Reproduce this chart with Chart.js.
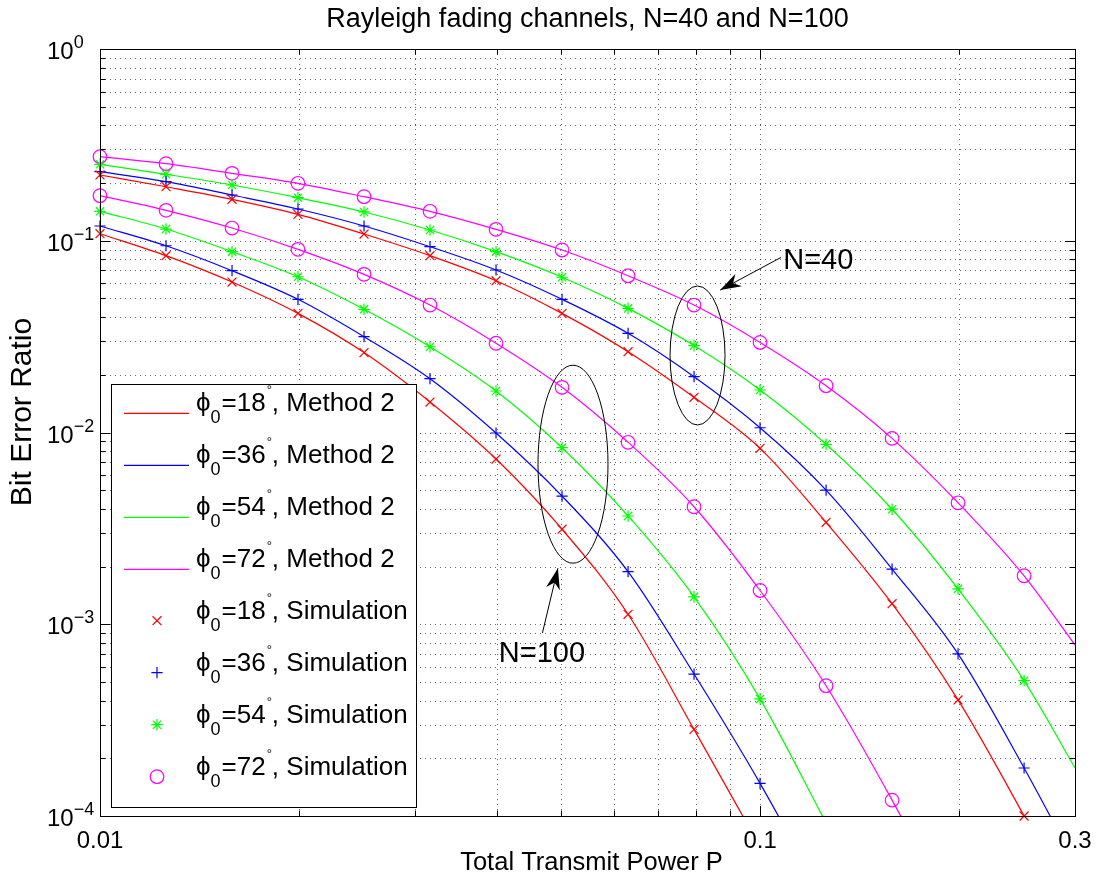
<!DOCTYPE html>
<html lang="en">
<head>
<meta charset="UTF-8">
<title>Rayleigh fading channels, N=40 and N=100</title>
<script src="https://cdn.jsdelivr.net/npm/chart.js@4.4.0/dist/chart.umd.min.js"></script>
<style>
  body { margin: 0; background: #fff; }
  #wrap { position: relative; width: 1098px; height: 880px; }
</style>
</head>
<body>
<div id="wrap"><canvas id="berChart"></canvas></div>
<script>
// --- Data ---
// transmit power at the simulated points (1 dB apart)
const powerP = [0.01, 0.01259, 0.01585, 0.01995, 0.02512, 0.03162, 0.03981, 0.05012,
                0.0631, 0.07943, 0.1, 0.1259, 0.1585, 0.1995, 0.2512];
// analytical curves run on to the right edge of the axes
const powerLine = [...powerP, 0.3];

const angles = [18, 36, 54, 72];

// BER, N = 40 (last entry at P = 0.3)
const ber18N40 = [0.2203, 0.1913, 0.1645, 0.1373, 0.1084, 0.0836, 0.0619, 0.0418, 0.0264, 0.01526, 0.00827, 0.0034, 0.00128, 0.000403, 0.0001, 0.000032];
const ber36N40 = [0.2291, 0.2032, 0.1732, 0.1464, 0.1194, 0.0931, 0.0704, 0.0495, 0.0329, 0.01954, 0.01059, 0.00501, 0.00194, 0.0007, 0.000178, 0.000057];
const ber54N40 = [0.2504, 0.2221, 0.1953, 0.1677, 0.1413, 0.1138, 0.0877, 0.0645, 0.0444, 0.0284, 0.01666, 0.00868, 0.00398, 0.00153, 0.000508, 0.000178];
const ber72N40 = [0.2744, 0.2522, 0.2247, 0.1993, 0.1697, 0.1424, 0.1147, 0.0895, 0.0657, 0.0462, 0.0295, 0.01754, 0.00932, 0.0043, 0.00179, 0.000779];

// BER, N = 100
const ber18N100 = [0.1088, 0.0836, 0.0609, 0.0418, 0.0261, 0.01442, 0.00727, 0.00313, 0.001127, 0.000283, 0.000069, null, null, null, null, null];
const ber36N100 = [0.1194, 0.0942, 0.0698, 0.0495, 0.0316, 0.01908, 0.00994, 0.00466, 0.00188, 0.00055, 0.000148, 0.000035, null, null, null, null];
const ber54N100 = [0.1424, 0.1151, 0.0877, 0.0649, 0.0439, 0.028, 0.01646, 0.00833, 0.00367, 0.00139, 0.000408, 0.000092, 0.0000205, null, null, null];
const ber72N100 = [0.1718, 0.1441, 0.1165, 0.0902, 0.0668, 0.0462, 0.0292, 0.0172, 0.00889, 0.0041, 0.0015, 0.000478, 0.000121, 0.000027, null, null];

// axis ticks
const xTickValues = [0.01, 0.1, 0.3];
const xTickLabels = ['0.01', '0.1', '0.3'];
const xMinorValues = [0.02, 0.03, 0.04, 0.05, 0.06, 0.07, 0.08, 0.09, 0.2];
const yTickValues = [1e-4, 1e-3, 1e-2, 1e-1, 1];
const yTickExponents = ['\u22124', '\u22123', '\u22122', '\u22121', '0'];

// --- Styles ---
const FONT = '"Liberation Sans", Arial, Helvetica, sans-serif';
const colors = ['#ff0000', '#0000ff', '#00ff00', '#ff00ff'];
const markerStyles = ['crossRot', 'cross', 'star', 'circle'];
const markerRadius = [6.3, 5.6, 5.8, 6.8];

const seriesN40 = [ber18N40, ber36N40, ber54N40, ber72N40];
const seriesN100 = [ber18N100, ber36N100, ber54N100, ber72N100];

function linePoints(values) {
    return powerLine.map((p, i) => ({ x: p, y: values[i] }));
}
function simPoints(values) {
    return powerP.map((p, i) => ({ x: p, y: values[i] }))
                 .filter(pt => pt.y !== null && pt.y >= 0.0000999);
}

const datasets = [];
[seriesN40, seriesN100].forEach(group => {
    group.forEach((values, k) => {
        datasets.push({
            label: 'phi0=' + angles[k] + ', Method 2',
            data: linePoints(values),
            borderColor: colors[k],
            borderWidth: 1.2,
            pointRadius: 0,
            cubicInterpolationMode: 'monotone',
            order: 1
        });
        datasets.push({
            label: 'phi0=' + angles[k] + ', Simulation',
            data: simPoints(values),
            showLine: false,
            pointStyle: markerStyles[k],
            pointRadius: markerRadius[k],
            pointBorderColor: colors[k],
            pointBackgroundColor: 'rgba(0,0,0,0)',
            pointBorderWidth: 1.2,
            clip: false,
            order: 0
        });
    });
});

// ellipse + arrow annotations, anchored in data coordinates
const groupRings = [
    { x: 0.0804, y: 0.02521, rx: 27.5, ry: 69.5 },
    { x: 0.05207, y: 0.006834, rx: 35, ry: 99 }
];
const groupArrows = [
    { label: 'N=40', from: [0.1076, 0.0819], to: [0.087, 0.0553], text: [0.1084, 0.071] },
    { label: 'N=100', from: [0.0468, 0.0009], to: [0.0494, 0.00196], text: [0.0402, 0.000638] }
];

function drawArrowHead(ctx, x0, y0, x1, y1) {
    const a = Math.atan2(y1 - y0, x1 - x0);
    const L = 21, W = 7;
    ctx.save();
    ctx.translate(x1, y1);
    ctx.rotate(a);
    ctx.beginPath();
    ctx.moveTo(0, 0);
    ctx.lineTo(-L, W);
    ctx.lineTo(-0.7 * L, 0);
    ctx.lineTo(-L, -W);
    ctx.closePath();
    ctx.fill();
    ctx.restore();
}

function drawLegendLabel(ctx, x, base, angle, kind) {
    ctx.textAlign = 'left';
    ctx.font = '26px ' + FONT;
    ctx.fillText('\u03D5', x, base);
    x += ctx.measureText('\u03D5').width;
    ctx.font = '18px ' + FONT;
    ctx.fillText('0', x, base + 12);
    x += ctx.measureText('0').width + 1;
    ctx.font = '26px ' + FONT;
    const s = '=' + angle;
    ctx.fillText(s, x, base);
    x += ctx.measureText(s).width + 1;
    ctx.font = '13px ' + FONT;
    ctx.fillText('\u00B0', x, base - 17);
    x += ctx.measureText('\u00B0').width;
    ctx.font = '26px ' + FONT;
    ctx.fillText(', ' + kind, x, base);
}

const matlabAxes = {
    id: 'matlabAxes',
    beforeDatasetsDraw(chart) {
        const { ctx, chartArea: a, scales: { x, y } } = chart;
        ctx.save();
        ctx.strokeStyle = 'rgba(0,0,0,0.6)';
        ctx.lineWidth = 1;
        ctx.setLineDash([1, 4]);
        // vertical grid
        [...xMinorValues, 0.1].forEach(v => {
            const px = Math.round(x.getPixelForValue(v)) + 0.5;
            ctx.beginPath();
            ctx.moveTo(px, a.top);
            ctx.lineTo(px, a.bottom);
            ctx.stroke();
        });
        // horizontal grid, decades and 2..9 within each
        yTickValues.forEach((d, i) => {
            if (i < yTickValues.length - 1) {
                for (let m = 1; m <= 9; m++) {
                    if (m === 1 && i === 0) continue;
                    const py = Math.round(y.getPixelForValue(m * d)) + 0.5;
                    ctx.beginPath();
                    ctx.moveTo(a.left, py);
                    ctx.lineTo(a.right, py);
                    ctx.stroke();
                }
            }
        });
        ctx.restore();
    },
    afterDatasetsDraw(chart) {
        const { ctx, chartArea: a, scales: { x, y } } = chart;
        ctx.save();
        ctx.fillStyle = '#000';
        ctx.strokeStyle = '#000';
        ctx.lineWidth = 1;

        // axes box
        ctx.strokeRect(Math.round(a.left) + 0.5, Math.round(a.top) + 0.5,
                       Math.round(a.right - a.left), Math.round(a.bottom - a.top));

        // inward ticks on all four sides
        const tick = (x0, y0, x1, y1) => {
            ctx.beginPath(); ctx.moveTo(x0, y0); ctx.lineTo(x1, y1); ctx.stroke();
        };
        xMinorValues.concat([0.1]).forEach(v => {
            const px = Math.round(x.getPixelForValue(v)) + 0.5;
            const len = v === 0.1 ? 10 : 5.5;
            tick(px, a.bottom, px, a.bottom - len);
            tick(px, a.top, px, a.top + len);
        });
        yTickValues.forEach((d, i) => {
            for (let m = 1; m <= 9; m++) {
                if (i === yTickValues.length - 1 && m > 1) break;
                const py = Math.round(y.getPixelForValue(m * d)) + 0.5;
                const len = m === 1 ? 10 : 5.5;
                tick(a.left, py, a.left + len, py);
                tick(a.right, py, a.right - len, py);
            }
        });

        // x tick labels
        ctx.font = '24px ' + FONT;
        ctx.textAlign = 'center';
        ctx.textBaseline = 'alphabetic';
        xTickValues.forEach((v, i) => {
            ctx.fillText(xTickLabels[i], x.getPixelForValue(v), a.bottom + 32);
        });

        // y tick labels: 10 with exponent
        yTickValues.forEach((v, i) => {
            const py = y.getPixelForValue(v);
            ctx.textAlign = 'left';
            ctx.font = '24px ' + FONT;
            ctx.fillText('10', 47, py + 10);
            const w = ctx.measureText('10').width;
            ctx.font = '18px ' + FONT;
            ctx.fillText(yTickExponents[i], 47 + w, py - 1);
        });

        // title and axis titles
        ctx.textAlign = 'center';
        ctx.font = '27px ' + FONT;
        ctx.fillText('Rayleigh fading channels, N=40 and N=100', (a.left + a.right) / 2, 27);
        ctx.font = '25.5px ' + FONT;
        ctx.fillText('Total Transmit Power P', (a.left + a.right) / 2 + 4, 870);
        ctx.save();
        ctx.translate(31, 412);
        ctx.rotate(-Math.PI / 2);
        ctx.font = '30px ' + FONT;
        ctx.fillText('Bit Error Ratio', 0, 0);
        ctx.restore();

        // group rings and arrows
        groupRings.forEach(r => {
            ctx.beginPath();
            ctx.ellipse(x.getPixelForValue(r.x), y.getPixelForValue(r.y), r.rx, r.ry, 0, 0, Math.PI * 2);
            ctx.stroke();
        });
        groupArrows.forEach(ar => {
            const x0 = x.getPixelForValue(ar.from[0]), y0 = y.getPixelForValue(ar.from[1]);
            const x1 = x.getPixelForValue(ar.to[0]), y1 = y.getPixelForValue(ar.to[1]);
            ctx.beginPath();
            ctx.moveTo(x0, y0);
            ctx.lineTo(x1, y1);
            ctx.stroke();
            drawArrowHead(ctx, x0, y0, x1, y1);
            ctx.font = '29px ' + FONT;
            ctx.textAlign = 'left';
            ctx.fillText(ar.label, x.getPixelForValue(ar.text[0]), y.getPixelForValue(ar.text[1]));
        });

        // legend box
        const lx = 111, ly = 384, lw = 305, lh = 423;
        ctx.fillStyle = '#fff';
        ctx.fillRect(lx, ly, lw, lh);
        ctx.strokeRect(lx + 0.5, ly + 0.5, lw, lh);
        ctx.fillStyle = '#000';
        const rowGap = 52, firstBase = 410.7;
        angles.forEach((ang, k) => {
            const base = firstBase + k * rowGap;
            ctx.strokeStyle = colors[k];
            ctx.lineWidth = 1.2;
            tick(124, base + 2.6, 189, base + 2.6);
            drawLegendLabel(ctx, 196, base, ang, 'Method 2');
        });
        angles.forEach((ang, k) => {
            const base = firstBase + (k + 4) * rowGap;
            ctx.strokeStyle = colors[k];
            ctx.lineWidth = 1.2;
            ctx.fillStyle = 'rgba(0,0,0,0)';
            Chart.helpers.drawPoint(ctx, {
                pointStyle: markerStyles[k], radius: markerRadius[k], borderWidth: 1.2, rotation: 0
            }, 157, base + 2);
            ctx.fillStyle = '#000';
            drawLegendLabel(ctx, 196, base, ang, 'Simulation');
        });
        ctx.restore();
    }
};

new Chart(document.getElementById('berChart'), {
    type: 'line',
    data: { datasets },
    options: {
        responsive: true,
        maintainAspectRatio: false,
        animation: false,
        events: [],
        layout: { padding: { left: 100, right: 23, top: 49, bottom: 64 } },
        scales: {
            x: { type: 'logarithmic', min: 0.01, max: 0.3, display: false },
            y: { type: 'logarithmic', min: 1e-4, max: 1, display: false }
        },
        plugins: {
            legend: { display: false },
            tooltip: { enabled: false }
        }
    },
    plugins: [matlabAxes]
});
</script>
</body>
</html>
